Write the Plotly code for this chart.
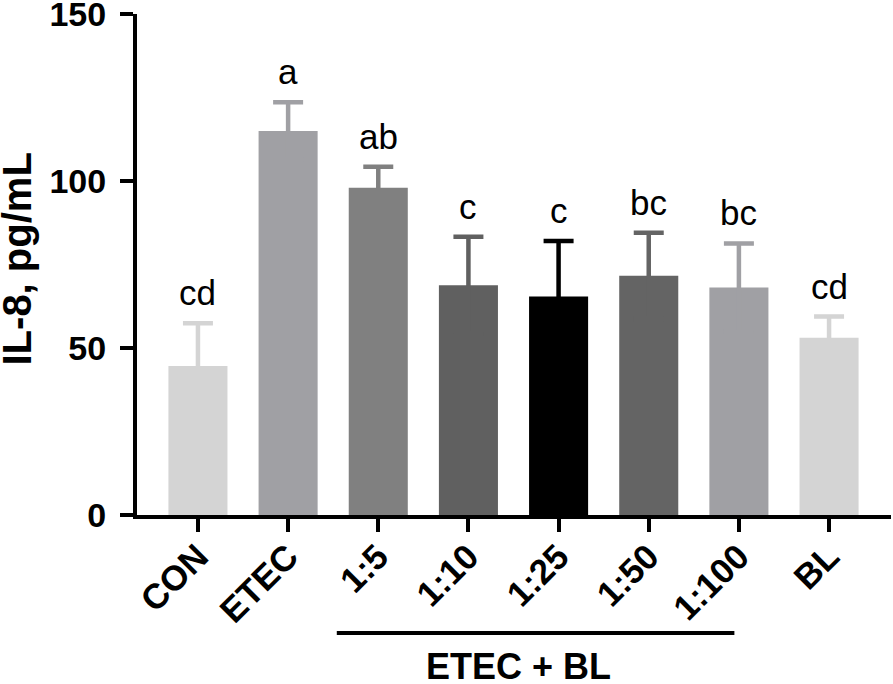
import plotly.graph_objects as go

categories = ["CON", "ETEC", "1:5", "1:10", "1:25", "1:50", "1:100", "BL"]
means = [44.6, 115.0, 98.0, 68.8, 65.4, 71.6, 68.1, 53.1]
sems = [12.8, 8.6, 6.3, 14.5, 16.6, 12.9, 13.2, 6.3]
letters = ["cd", "a", "ab", "c", "c", "bc", "bc", "cd"]
colors = ["#d4d4d4", "#a0a0a4", "#808080", "#606060", "#000000", "#646464", "#a0a0a4", "#d4d4d4"]
y_ticks = [0, 50, 100, 150]
group_label = "ETEC + BL"
y_title = "IL-8, pg/mL"

FONT = "Liberation Sans, Arial, sans-serif"

fig = go.Figure()
for cat, m, s, c in zip(categories, means, sems, colors):
    fig.add_trace(go.Bar(
        x=[cat], y=[m], width=0.655,
        marker=dict(color=c, line=dict(width=0)),
        error_y=dict(type="data", array=[s], symmetric=True,
                     color=c, thickness=4.5, width=15),
        showlegend=False,
    ))

for cat, m, s, lab in zip(categories, means, sems, letters):
    fig.add_annotation(x=cat, y=m + s, text=lab, showarrow=False,
                       yanchor="bottom", yshift=9,
                       font=dict(family=FONT, size=35, color="black"))

# group bracket and label
fig.add_shape(type="line", xref="x", yref="paper", x0=1.54, x1=5.95,
              y0=-0.2355, y1=-0.2355, line=dict(color="black", width=4))
fig.add_annotation(x=3.56, y=-0.302, xref="x", yref="paper", text="<b>" + group_label + "</b>",
                   showarrow=False, yanchor="middle",
                   font=dict(family=FONT, size=36, color="black"))

# y-axis title
fig.add_annotation(x=0, y=0.51, xref="paper", yref="paper", text="<b>" + y_title + "</b>",
                   textangle=-90, showarrow=False, xanchor="center", yanchor="middle",
                   xshift=-120, font=dict(family=FONT, size=40, color="black"))

fig.update_layout(
    width=893, height=684,
    margin=dict(l=137, r=2, t=14, b=169, autoexpand=False),
    paper_bgcolor="white", plot_bgcolor="white",
    barmode="overlay",
    font=dict(family=FONT, color="black"),
    xaxis=dict(
        type="category", categoryorder="array", categoryarray=categories,
        range=[-0.676, 7.687], automargin=False,
        showline=True, linecolor="black", linewidth=4,
        ticks="outside", ticklen=13, tickwidth=4, tickcolor="black",
        tickangle=-45, ticklabelstandoff=-10, showgrid=False, zeroline=False,
        tickfont=dict(family=FONT, size=35, color="black", weight="bold"),
    ),
    yaxis=dict(
        range=[0, 150], tickvals=y_ticks, automargin=False,
        showline=True, linecolor="black", linewidth=4,
        ticks="outside", ticklen=13, tickwidth=4, tickcolor="black",
        ticklabeloverflow="allow", ticklabelstandoff=7,
        showgrid=False, zeroline=False,
        tickfont=dict(family=FONT, size=34, color="black", weight="bold"),
    ),
)

fig.write_html("out.html", config={"displayModeBar": False},
               post_script="document.body.style.margin='0';document.body.style.overflow='hidden';")
